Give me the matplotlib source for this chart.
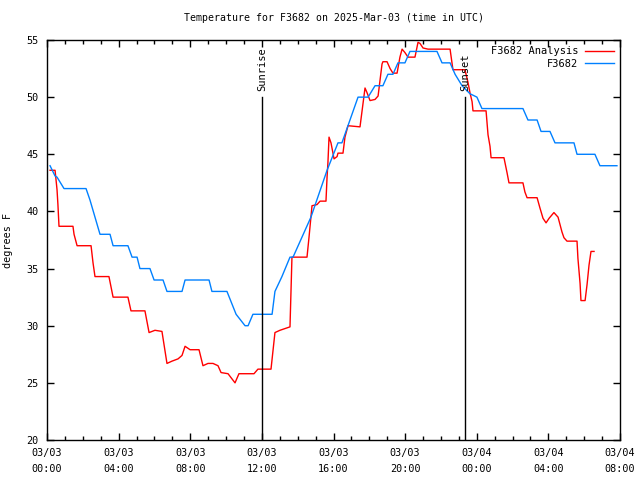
import matplotlib
matplotlib.use("Agg")
import matplotlib.pyplot as plt
from matplotlib.ticker import MultipleLocator

# hours since 2025-03-03 00:00 UTC
analysis_hours = [0.17, 0.45, 0.56, 0.61, 0.67, 1.45, 1.51, 1.68, 2.46, 2.57, 2.68, 3.46,
                  3.69, 4.52, 4.69, 5.47, 5.70, 6.03, 6.42, 6.70, 6.98, 7.32, 7.54, 7.71,
                  7.99, 8.49, 8.71, 8.99, 9.27, 9.55, 9.72, 10.11, 10.50, 10.72, 11.56, 11.78,
                  12.51, 12.73, 13.01, 13.57, 13.68, 14.52, 14.63, 14.80, 15.08, 15.25, 15.58,
                  15.64, 15.69, 15.75, 15.86, 15.97, 16.03, 16.20, 16.25, 16.53, 16.64, 16.81,
                  17.48, 17.76, 17.87, 18.04, 18.32, 18.49, 18.71, 18.76, 18.99, 19.16, 19.32,
                  19.55, 19.71, 19.83, 19.99, 20.16, 20.55, 20.72, 20.83, 21.00, 21.28, 22.51,
                  22.67, 23.34, 23.51, 23.62, 23.74, 23.79, 24.52, 24.63, 24.74, 24.80, 25.52,
                  25.69, 25.80, 26.58, 26.69, 26.81, 27.37, 27.53, 27.70, 27.87, 28.04, 28.31,
                  28.54, 28.76, 28.87, 29.04, 29.60, 29.65, 29.77, 29.82, 30.05, 30.16, 30.27,
                  30.38, 30.55]
analysis_temp = [43.6, 43.6, 41.9, 40.6, 38.7, 38.7, 38.0, 37.0, 37.0, 35.5, 34.3, 34.3,
                 32.5, 32.5, 31.3, 31.3, 29.4, 29.6, 29.5, 26.7, 26.9, 27.1, 27.4, 28.2,
                 27.9, 27.9, 26.5, 26.7, 26.7, 26.5, 25.9, 25.8, 25.0, 25.8, 25.8, 26.2,
                 26.2, 29.4, 29.6, 29.9, 36.0, 36.0, 37.7, 40.5, 40.6, 40.9, 40.9,
                 43.0, 44.3, 46.5, 46.0, 45.1, 44.6, 44.8, 45.1, 45.1, 46.5, 47.5,
                 47.4, 50.8, 50.4, 49.7, 49.8, 50.1, 52.9, 53.1, 53.1, 52.5, 52.1,
                 52.1, 53.5, 54.2, 53.9, 53.5, 53.5, 54.8, 54.7, 54.3, 54.2, 54.2,
                 52.4, 52.4, 51.3, 50.4, 49.6, 48.8, 48.8, 46.7, 45.7, 44.7, 44.7,
                 43.4, 42.5, 42.5, 41.7, 41.2, 41.2, 40.3, 39.4, 39.0, 39.4, 39.9,
                 39.5, 38.2, 37.7, 37.4, 37.4, 35.9, 33.7, 32.2, 32.2, 33.6, 35.3,
                 36.5, 36.5]

obs_hours = [0.17, 0.45, 0.56, 0.95, 2.18, 2.40, 2.68, 2.96, 3.52, 3.69, 4.52, 4.75, 5.03,
             5.19, 5.75, 5.98, 6.48, 6.70, 7.54, 7.71, 9.05, 9.21, 10.05, 10.56, 11.06,
             11.23, 11.50, 12.57, 12.73, 13.12, 13.57, 13.74, 14.74, 15.64, 16.25, 16.47,
             16.92, 17.37, 17.93, 18.32, 18.76, 19.04, 19.32, 19.60, 19.99, 20.27, 21.78,
             22.06, 22.51, 22.79, 23.18, 23.62, 24.01, 24.29, 26.58, 26.86, 27.37, 27.59,
             28.09, 28.37, 29.43, 29.60, 30.60, 30.88, 31.83]
obs_temp = [44.0, 43.1, 43.0, 42.0, 42.0, 41.0, 39.5, 38.0, 38.0, 37.0, 37.0, 36.0, 36.0,
            35.0, 35.0, 34.0, 34.0, 33.0, 33.0, 34.0, 34.0, 33.0, 33.0, 31.0, 30.0,
            30.0, 31.0, 31.0, 33.0, 34.3, 36.0, 36.0, 39.5, 43.6, 46.0, 46.0,
            48.0, 50.0, 50.0, 51.0, 51.0, 52.0, 52.0, 53.0, 53.0, 54.0, 54.0,
            53.0, 53.0, 52.0, 51.0, 50.3, 50.0, 49.0, 49.0, 48.0, 48.0, 47.0,
            47.0, 46.0, 46.0, 45.0, 45.0, 44.0, 44.0]

sunrise_hour = 12.0
sunset_hour = 23.35

tick_hours = [0, 4, 8, 12, 16, 20, 24, 28, 32]
tick_labels = ["03/03\n00:00", "03/03\n04:00", "03/03\n08:00", "03/03\n12:00", "03/03\n16:00",
               "03/03\n20:00", "03/04\n00:00", "03/04\n04:00", "03/04\n08:00"]

plt.rcParams['font.family'] = 'DejaVu Sans Mono'
plt.rcParams['font.size'] = 7.3

fig = plt.figure(figsize=(6.4, 4.8), dpi=100)
ax = fig.add_axes([47 / 640, 40 / 480, 573 / 640, 400 / 480])

ax.plot(analysis_hours, analysis_temp, color='#ff0000', linewidth=1, label='F3682 Analysis')
ax.plot(obs_hours, obs_temp, color='#0080ff', linewidth=1, label='F3682')

# sunrise / sunset markers
for hr, name in [(sunrise_hour, 'Sunrise'), (sunset_hour, 'Sunset')]:
    ax.plot([hr, hr], [20, 50], color='black', linewidth=1)
    ax.text(hr, 50.5, name, rotation=90, ha='center', va='bottom', fontsize=7.5)

ax.set_xlim(0, 32)
ax.set_ylim(20, 55)
ax.set_xticks(tick_hours)
ax.set_xticklabels(tick_labels, linespacing=1.7)
ax.xaxis.set_minor_locator(MultipleLocator(1))
ax.yaxis.set_major_locator(MultipleLocator(5))
ax.tick_params(which='both', direction='in', top=True, right=True, width=1)
ax.tick_params(which='major', length=5, pad=6)
ax.tick_params(which='minor', length=3)
for s in ax.spines.values():
    s.set_linewidth(1)

ax.set_ylabel('degrees F', labelpad=10)
ax.set_title('Temperature for F3682 on 2025-Mar-03 (time in UTC)', fontsize=7.1, pad=14)

ax.legend(loc='upper right', frameon=False, markerfirst=False, handlelength=2.8,
          handletextpad=0.6, borderaxespad=0.3, borderpad=0.3, labelspacing=0.25,
          fontsize=7.5)

fig.savefig('out.png', dpi=100)
